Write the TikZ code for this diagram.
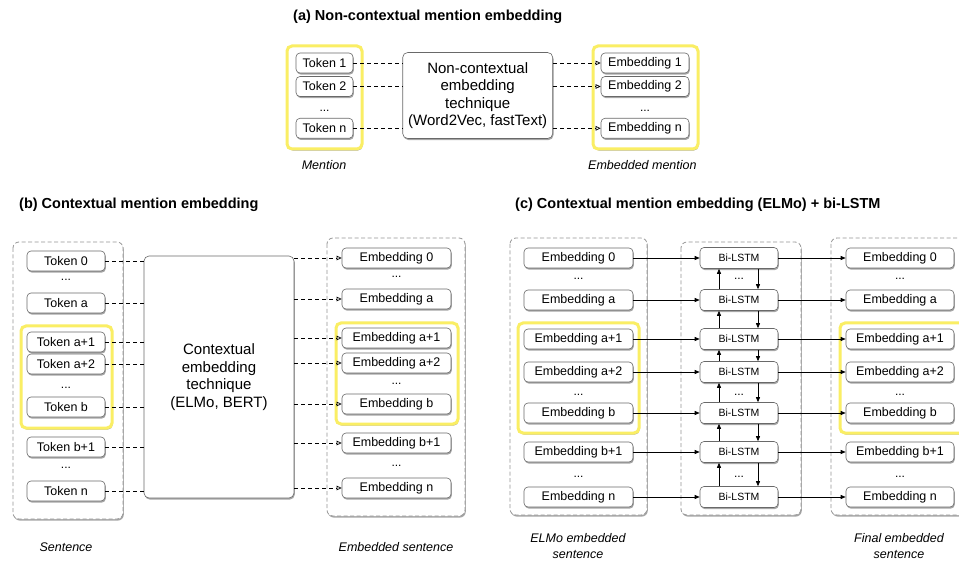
\documentclass[tikz,border=0pt]{standalone}
\usepackage{fontspec}
\setmainfont{Liberation Sans}
\usetikzlibrary{shadows,arrows.meta,calc}
\definecolor{hl}{RGB}{250,238,100}
\definecolor{nodeline}{RGB}{105,105,105}
\definecolor{contline}{RGB}{150,150,150}
\tikzset{
  shad/.style={drop shadow={shadow xshift=0.8pt,shadow yshift=-1.6pt,opacity=0.35,fill=black}},
  item/.style={draw=nodeline, line width=0.6pt, fill=white, rounded corners=4pt, shad, minimum height=20pt, inner sep=0pt, font=\fontsize{12.5}{14}\selectfont},
  lstm/.style={item, minimum width=78pt, minimum height=21pt, font=\fontsize{10.5}{12}\selectfont},
  proc/.style={draw=nodeline, line width=0.6pt, fill=white, rounded corners=5pt, shad, align=center, inner sep=0pt, font=\fontsize{15}{17.4}\selectfont},
  cont/.style={draw=contline, line width=0.8pt, dash pattern=on 4pt off 2.5pt, fill=white, rounded corners=6pt, shad},
  hlbox/.style={draw=hl, line width=3pt, fill=white, rounded corners=5pt, shad},
  dotsn/.style={font=\fontsize{12}{14}\selectfont, inner sep=0pt},
  ttl/.style={font=\fontsize{14.5}{17}\selectfont\bfseries, inner sep=0pt},
  lbl/.style={font=\fontsize{12.5}{16}\selectfont\itshape, align=center, inner sep=0pt},
  dline/.style={line width=0.7pt, dash pattern=on 4pt off 3pt},
  darrow/.style={dline, -{Triangle[open,length=5pt,width=4.5pt]}},
  sarrow/.style={line width=0.7pt, -{Triangle[length=5pt,width=4pt]}},
}
\begin{document}
\begin{tikzpicture}[x=1pt,y=-1pt]
\useasboundingbox (0,0) rectangle (959,561);
\clip (0,0) rectangle (959,561);
\fill[white] (0,0) rectangle (959,561);

% ---------------- (a) ----------------
\node[ttl, anchor=west] (ta) at (293,17) {(a) Non-contextual mention embedding};
\draw[hlbox] (287,46) rectangle (362,149);
\draw[hlbox] (593,46) rectangle (698,149);
\node[item, minimum width=57pt] (at1) at (324.5,63) {Token 1};
\node[item, minimum width=57pt] (at2) at (324.5,86.5) {Token 2};
\node[dotsn] (atd) at (324.5,111) {...};
\node[item, minimum width=57pt] (atn) at (324.5,128.3) {Token n};
\node[proc, minimum width=150pt, minimum height=86pt] (am) at (477.7,95.5) {Non-contextual\\embedding\\technique\\(Word2Vec, fastText)};
\node[item, minimum width=88pt] (ae1) at (645,63) {Embedding 1};
\node[item, minimum width=88pt] (ae2) at (645,86.5) {Embedding 2};
\node[dotsn] (aed) at (645,111) {...};
\node[item, minimum width=88pt] (aen) at (645,128.3) {Embedding n};
\node[lbl] (la1) at (324,165) {Mention};
\node[lbl, anchor=west] (la2) at (588,165) {Embedded mention};
\foreach \t in {at1,at2,atn}{\draw[dline] (\t.east) -- (\t.east -| am.west);}
\foreach \e in {ae1,ae2,aen}{\draw[darrow] (\e.west -| am.east) -- (\e.west);}

% ---------------- (b) ----------------
\node[ttl, anchor=west] (tb) at (19,205) {(b) Contextual mention embedding};
\draw[cont] (13,242) rectangle (123,519);
\draw[hlbox] (21,326) rectangle (112,428);
\node[item, minimum width=78pt] (b0) at (66,261) {Token 0};
\node[dotsn] (bd1) at (66,280) {...};
\node[item, minimum width=78pt] (ba) at (66,303) {Token a};
\node[item, minimum width=78pt] (ba1) at (66,342) {Token a+1};
\node[item, minimum width=78pt] (ba2) at (66,364) {Token a+2};
\node[dotsn] (bd2) at (66,388) {...};
\node[item, minimum width=78pt] (bb) at (66,407) {Token b};
\node[item, minimum width=78pt] (bb1) at (66,447) {Token b+1};
\node[dotsn] (bd3) at (66,468) {...};
\node[item, minimum width=78pt] (bn) at (66,491) {Token n};
\node[proc, minimum width=150pt, minimum height=242pt, font=\fontsize{15}{17.6}\selectfont] (bm) at (219,377) {Contextual\\embedding\\technique\\(ELMo, BERT)};
\draw[cont] (327,238) rectangle (465,516);
\draw[hlbox] (336,323) rectangle (458,424);
\node[item, minimum width=109pt] (be0) at (396.5,258) {Embedding 0};
\node[dotsn] (bed1) at (396.5,277) {...};
\node[item, minimum width=109pt] (bea) at (396.5,299) {Embedding a};
\node[item, minimum width=109pt] (bea1) at (396.5,338) {Embedding a+1};
\node[item, minimum width=109pt] (bea2) at (396.5,363) {Embedding a+2};
\node[dotsn] (bed2) at (396.5,384) {...};
\node[item, minimum width=109pt] (beb) at (396.5,404) {Embedding b};
\node[item, minimum width=109pt] (beb1) at (396.5,443) {Embedding b+1};
\node[dotsn] (bed3) at (396.5,466) {...};
\node[item, minimum width=109pt] (ben) at (396.5,488) {Embedding n};
\node[lbl] (lb1) at (66,547) {Sentence};
\node[lbl] (lb2) at (396,547) {Embedded sentence};
\foreach \t in {b0,ba,ba1,ba2,bb,bb1,bn}{\draw[dline] (\t.east) -- (\t.east -| bm.west);}
\foreach \e in {be0,bea,bea1,bea2,beb,beb1,ben}{\draw[darrow] (\e.west -| bm.east) -- (\e.west);}

% ---------------- (c) ----------------
\node[ttl, anchor=west] (tc) at (515,205) {(c) Contextual mention embedding (ELMo) + bi-LSTM};
\draw[cont] (510,238) rectangle (647,515);
\draw[hlbox] (518,323) rectangle (639,433);
\draw[cont] (681,242) rectangle (801,515);
\draw[cont] (831,238) rectangle (975,515);
\draw[hlbox] (840,323) rectangle (970,433);
\foreach \n/\y/\s in {0/258/0, 1/300/a, 2/339/a+1, 3/372/a+2, 4/413/b, 5/452/b+1, 6/497/n}{
  \node[item, minimum width=109pt] (ce\n) at (578.5,\y) {Embedding \s};
  \node[lstm] (cl\n) at (739,\y) {Bi-LSTM};
  \node[item, minimum width=108pt] (cf\n) at (900,\y) {Embedding \s};
  \draw[sarrow] (ce\n.east) -- (cl\n.west);
  \draw[sarrow] (cl\n.east) -- (cf\n.west);
}
\foreach \y [count=\i] in {279,395,477}{
  \node[dotsn] (ced\i) at (578.5,\y) {...};
  \node[dotsn] (cfd\i) at (900,\y) {...};
}
\node[dotsn] (cld1) at (739,279) {...};
\node[dotsn] (cld2) at (739,395) {...};
\node[dotsn] (cld3) at (739,477) {...};
\coordinate (ux) at (719,0);
\coordinate (dx) at (758,0);
\foreach \a/\b in {0/1,1/2,2/3,3/4,4/5,5/6}{
  \draw[sarrow] (cl\b.north -| ux) -- (cl\a.south -| ux);
  \draw[sarrow] (cl\a.south -| dx) -- (cl\b.north -| dx);
}
\node[lbl] (lc1) at (578,546) {ELMo embedded\\sentence};
\node[lbl] (lc2) at (899,546) {Final embedded\\sentence};
\end{tikzpicture}
\end{document}
